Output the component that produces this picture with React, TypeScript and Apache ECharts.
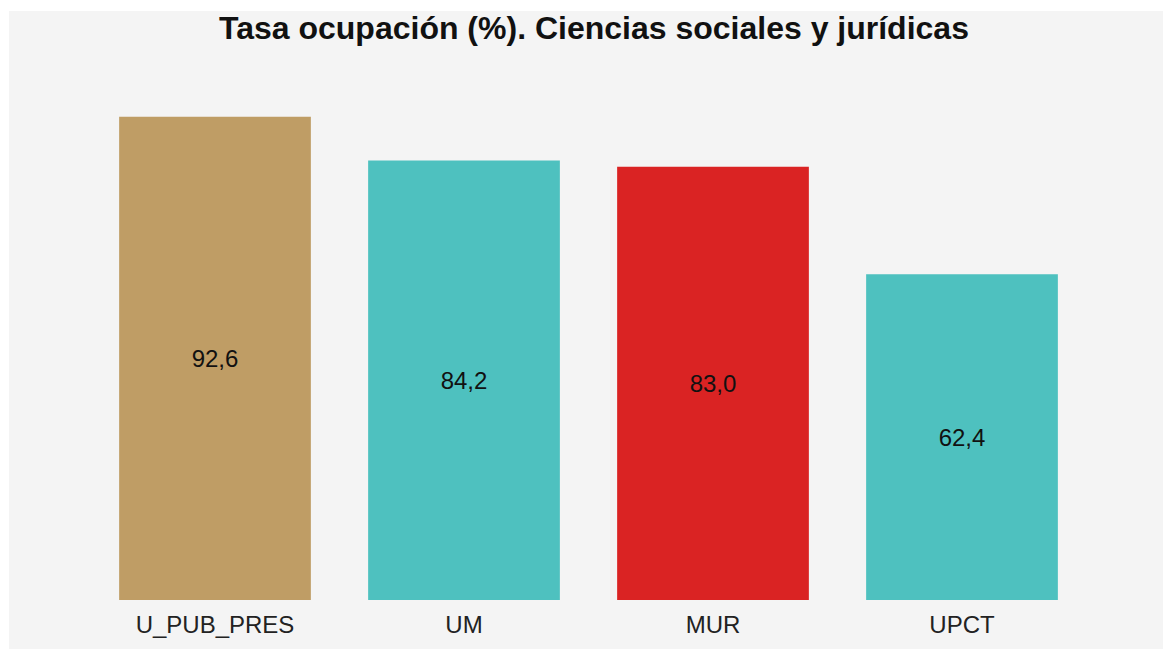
import React, { useEffect, useRef } from "react";
import * as echarts from "echarts";

const categories = ["U_PUB_PRES", "UM", "MUR", "UPCT"];
const values = [92.6, 84.2, 83.0, 62.4];
const colors = ["#BF9D65", "#4EC1BF", "#DA2323", "#4EC1BF"];
const titleText = "Tasa ocupación (%). Ciencias sociales y jurídicas";

export default function App() {
  const ref = useRef<HTMLDivElement>(null);
  useEffect(() => {
    if (!ref.current) return;
    const chart = echarts.init(ref.current, null, { renderer: "svg" });
    chart.setOption({
      animation: false,
      backgroundColor: "#F4F4F4",
      title: {
        text: titleText,
        left: 210,
        top: 1,
        padding: 0,
        textStyle: {
          fontFamily: "Liberation Sans, Arial, sans-serif",
          fontSize: 32,
          fontWeight: "bold",
          color: "#111111",
        },
      },
      grid: { left: 81.5, right: 76.5, top: 67, bottom: 49, containLabel: false },
      xAxis: {
        type: "category",
        data: categories,
        axisLine: { show: false },
        axisTick: { show: false },
        axisLabel: {
          fontFamily: "Liberation Sans, Arial, sans-serif",
          fontSize: 24,
          color: "#222222",
          margin: 12,
        },
      },
      yAxis: {
        type: "value",
        min: 0,
        max: 100,
        show: false,
        splitLine: { show: false },
      },
      series: [
        {
          type: "bar",
          barCategoryGap: "23%",
          data: values.map((v, i) => ({ value: v, itemStyle: { color: colors[i] } })),
          label: {
            show: true,
            position: "inside",
            fontFamily: "Liberation Sans, Arial, sans-serif",
            fontSize: 24,
            color: "#111111",
            formatter: (p: any) => p.value.toFixed(1).replace(".", ","),
          },
        },
      ],
    });
    return () => chart.dispose();
  }, []);
  return (
    <div
      ref={ref}
      style={{ position: "absolute", left: 9, top: 11, width: 1154, height: 638 }}
    />
  );
}
